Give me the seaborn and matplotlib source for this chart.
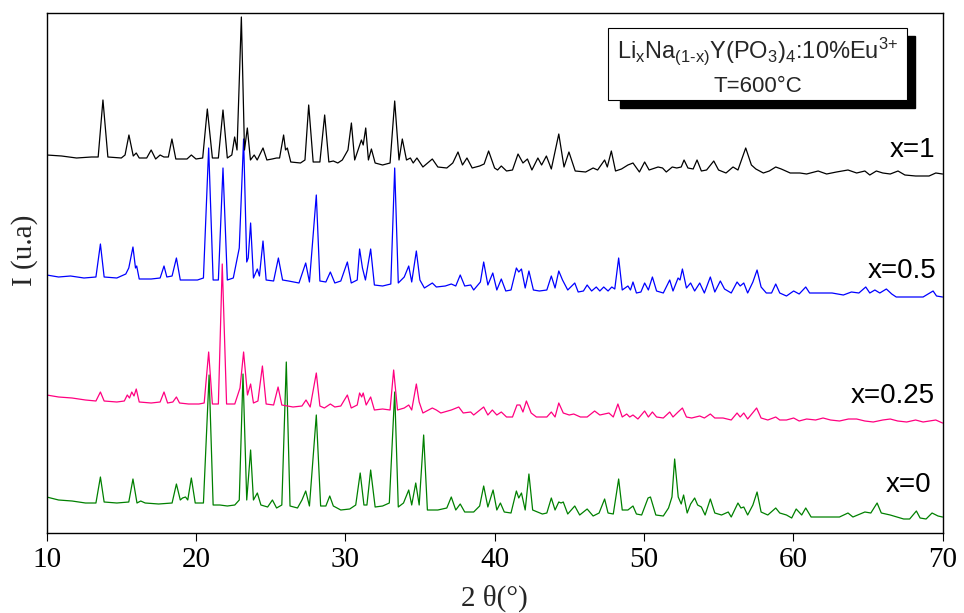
import matplotlib
matplotlib.use("Agg")
import matplotlib.pyplot as plt
import seaborn as sns
import pandas as pd
from matplotlib.patches import Rectangle

# ---- data: (2theta, intensity a.u.) vertices ----
x1_pattern = [
    (10.0, 38), (11.0, 37), (12.0, 35), (13.0, 36), (13.45, 36), (13.77, 93), (14.1, 36), (15.0, 35),
    (15.25, 38), (15.51, 58), (15.8, 37), (16.0, 40), (16.2, 35), (16.7, 35), (17.0, 43), (17.3, 34),
    (17.6, 38), (17.85, 36), (18.15, 36), (18.39, 54), (18.65, 34), (19.4, 34), (19.69, 38), (20.0, 34),
    (20.45, 35), (20.76, 84), (21.1, 35), (21.5, 35), (21.81, 83), (22.1, 35), (22.4, 38), (22.59, 56),
    (22.75, 43), (23.04, 176), (23.25, 43), (23.44, 65), (23.65, 33), (23.9, 38), (24.1, 33), (24.49, 45),
    (24.75, 33), (25.1, 34), (25.4, 35), (25.6, 35), (25.87, 58), (26.0, 43), (26.12, 45), (26.35, 31),
    (27.0, 30), (27.3, 33), (27.55, 88), (27.85, 31), (28.3, 31), (28.62, 78), (28.9, 31), (29.2, 32),
    (29.5, 30), (29.8, 33), (30.18, 43), (30.41, 70), (30.63, 33), (31.08, 53), (31.2, 48), (31.37, 65),
    (31.55, 33), (31.75, 44), (32.0, 30), (32.5, 28), (33.0, 30), (33.31, 92), (33.6, 33), (33.82, 54),
    (34.1, 33), (34.36, 35), (34.55, 30), (34.8, 35), (35.2, 26), (35.83, 34), (36.2, 26), (36.8, 25),
    (37.2, 30), (37.55, 41), (37.85, 28), (38.15, 35), (38.5, 25), (39.0, 27), (39.3, 29), (39.6, 42),
    (40.0, 25), (40.2, 23), (40.45, 27), (40.8, 22), (41.2, 23), (41.57, 39), (41.9, 30), (42.2, 34),
    (42.5, 23), (42.9, 35), (43.15, 28), (43.47, 37), (43.8, 24), (44.3, 59), (44.65, 26), (44.98, 41),
    (45.4, 22), (46.1, 21), (46.6, 25), (46.9, 23), (47.37, 33), (47.55, 26), (47.82, 42), (48.1, 22),
    (48.5, 24), (48.93, 28), (49.27, 30), (49.7, 21), (50.05, 31), (50.35, 23), (50.95, 26), (51.25, 25),
    (51.5, 21), (51.9, 26), (52.2, 25), (52.5, 26), (52.69, 33), (52.95, 25), (53.3, 24), (53.56, 33),
    (53.85, 22), (54.2, 23), (54.68, 32), (55.0, 23), (55.5, 20), (55.97, 26), (56.3, 23), (56.82, 45),
    (57.2, 28), (57.5, 24), (58.0, 20), (58.4, 22), (58.83, 26), (59.2, 24), (59.8, 20), (60.45, 20),
    (60.9, 19), (61.67, 22), (62.24, 19), (62.9, 21), (63.67, 23), (64.25, 20), (64.8, 22), (65.13, 18),
    (65.57, 22), (66.0, 20), (66.5, 19), (67.02, 22), (67.48, 18), (68.2, 17), (69.1, 17), (69.55, 20),
    (70.0, 19),
]

x05_pattern = [
    (10.0, 38), (10.8, 36), (11.6, 37), (12.5, 35), (13.3, 36), (13.6, 69), (13.85, 36), (14.7, 35),
    (15.3, 39), (15.5, 45), (15.78, 66), (15.95, 45), (16.03, 47), (16.2, 34), (17.0, 34), (17.6, 35),
    (17.86, 47), (18.05, 36), (18.4, 37), (18.69, 55), (18.95, 33), (19.5, 33), (20.1, 33), (20.5, 35),
    (20.85, 165), (21.15, 33), (21.5, 33), (21.81, 145), (22.1, 33), (22.5, 35), (22.9, 65), (23.19, 174),
    (23.4, 51), (23.5, 55), (23.66, 90), (23.85, 35), (24.11, 44), (24.25, 37), (24.49, 72), (24.7, 33),
    (25.2, 32), (25.52, 55), (25.8, 33), (26.2, 32), (26.9, 30), (27.35, 50), (27.6, 31), (28.06, 118),
    (28.3, 32), (28.7, 31), (29.0, 41), (29.3, 30), (29.7, 32), (30.14, 51), (30.4, 30), (30.8, 33),
    (30.96, 64), (31.15, 45), (31.35, 33), (31.7, 64), (31.95, 28), (32.5, 27), (33.05, 29), (33.31, 145),
    (33.55, 30), (33.95, 36), (34.25, 47), (34.45, 31), (34.76, 62), (35.0, 33), (35.3, 25), (35.83, 30),
    (36.1, 26), (36.7, 27), (37.1, 29), (37.4, 27), (37.7, 38), (38.0, 27), (38.4, 28), (38.6, 23),
    (39.05, 31), (39.27, 51), (39.55, 28), (39.88, 40), (40.15, 23), (40.45, 34), (40.75, 22), (41.1, 23),
    (41.46, 45), (41.62, 41), (41.8, 44), (42.05, 25), (42.3, 42), (42.6, 23), (43.0, 22), (43.5, 23),
    (43.8, 37), (44.05, 25), (44.3, 42), (44.55, 33), (44.9, 23), (45.37, 30), (45.6, 21), (45.95, 22),
    (46.2, 28), (46.5, 22), (46.81, 26), (47.05, 22), (47.31, 26), (47.6, 22), (47.85, 26), (48.05, 24),
    (48.31, 55), (48.55, 23), (48.93, 27), (49.1, 23), (49.27, 31), (49.5, 20), (49.8, 21), (50.05, 30),
    (50.3, 23), (50.57, 36), (50.85, 22), (51.3, 20), (51.73, 33), (51.95, 22), (52.29, 35), (52.42, 33),
    (52.58, 44), (52.85, 25), (53.13, 30), (53.4, 22), (53.74, 30), (54.05, 20), (54.45, 36), (54.75, 21),
    (55.12, 32), (55.4, 24), (55.85, 20), (56.24, 31), (56.45, 27), (56.69, 30), (56.95, 20), (57.3, 31),
    (57.58, 43), (57.85, 26), (58.2, 20), (58.55, 20), (58.83, 29), (59.1, 20), (59.55, 17), (60.03, 22),
    (60.4, 19), (60.84, 26), (61.1, 20), (61.98, 20), (62.6, 20), (63.36, 18), (63.9, 21), (64.4, 20),
    (64.86, 26), (65.13, 20), (65.47, 23), (65.8, 20), (66.24, 24), (66.6, 19), (66.9, 16), (67.8, 16),
    (68.7, 16), (69.37, 22), (69.6, 17), (70.0, 16),
]

x025_pattern = [
    (10.0, 38), (10.8, 36), (11.7, 35), (12.6, 33), (13.3, 32), (13.6, 41), (13.85, 32), (14.7, 31),
    (15.2, 32), (15.4, 38), (15.55, 35), (15.7, 41), (15.85, 37), (16.0, 44), (16.2, 31), (17.0, 30),
    (17.6, 31), (17.86, 41), (18.1, 30), (18.45, 31), (18.69, 36), (18.9, 30), (19.5, 29), (20.2, 29),
    (20.55, 30), (20.85, 81), (21.1, 29), (21.5, 29), (21.76, 169), (22.05, 29), (22.6, 29), (22.95, 45),
    (23.19, 81), (23.45, 38), (23.66, 49), (23.85, 30), (24.15, 32), (24.45, 67), (24.7, 29), (25.2, 28),
    (25.5, 46), (25.75, 28), (26.5, 26), (27.1, 27), (27.37, 33), (27.65, 26), (28.06, 60), (28.3, 27),
    (28.6, 25), (29.0, 29), (29.3, 26), (29.7, 27), (30.14, 38), (30.4, 25), (30.8, 28), (30.96, 40),
    (31.1, 36), (31.2, 40), (31.4, 28), (31.7, 36), (31.95, 23), (32.5, 24), (33.0, 23), (33.24, 63),
    (33.5, 23), (33.95, 25), (34.25, 28), (34.45, 23), (34.76, 49), (34.95, 31), (35.2, 20), (35.83, 25),
    (36.1, 23), (36.4, 20), (37.1, 23), (37.6, 26), (37.9, 20), (38.4, 21), (38.6, 18), (39.27, 26),
    (39.55, 18), (39.85, 23), (40.15, 18), (40.45, 21), (40.8, 16), (41.2, 16), (41.5, 28), (41.7, 28),
    (41.9, 21), (42.13, 32), (42.45, 20), (42.8, 16), (43.5, 16), (43.8, 21), (44.05, 16), (44.3, 30),
    (44.6, 20), (45.0, 18), (45.3, 19), (45.75, 16), (46.2, 16), (46.7, 22), (47.05, 18), (47.66, 20),
    (47.95, 16), (48.26, 29), (48.55, 16), (48.85, 19), (49.05, 16), (49.27, 18), (49.6, 14), (50.05, 22),
    (50.3, 16), (50.57, 21), (50.85, 16), (51.3, 15), (51.73, 21), (51.95, 16), (52.29, 21), (52.58, 25),
    (52.85, 16), (53.2, 15), (53.74, 17), (54.05, 15), (54.45, 19), (54.75, 15), (55.3, 15), (55.85, 13),
    (56.24, 20), (56.45, 16), (56.69, 20), (56.95, 14), (57.55, 25), (57.85, 15), (58.3, 13), (58.83, 16),
    (59.1, 13), (59.55, 13), (60.03, 15), (60.4, 12), (60.9, 14), (61.5, 13), (62.0, 15), (62.5, 13),
    (63.1, 12), (63.7, 14), (64.25, 14), (64.8, 12), (65.36, 11), (66.0, 13), (66.5, 14), (67.0, 12),
    (67.6, 11), (68.2, 13), (68.7, 11), (69.55, 13), (70.0, 10),
]

x0_pattern = [
    (10.0, 36), (10.8, 33), (11.7, 32), (12.6, 30), (13.3, 30), (13.6, 56), (13.85, 31), (14.7, 30),
    (15.5, 31), (15.78, 54), (16.05, 30), (16.3, 32), (16.6, 30), (17.5, 29), (18.4, 30), (18.69, 49),
    (18.95, 33), (19.1, 35), (19.3, 36), (19.45, 33), (19.69, 55), (19.95, 30), (20.5, 30), (20.88, 158),
    (21.15, 28), (21.6, 28), (22.1, 27), (22.6, 28), (22.9, 33), (23.15, 159), (23.4, 33), (23.66, 83),
    (23.85, 33), (24.11, 40), (24.35, 28), (24.8, 26), (25.12, 33), (25.4, 25), (25.75, 28), (26.05, 171),
    (26.3, 27), (26.8, 25), (27.1, 33), (27.35, 42), (27.6, 27), (28.06, 118), (28.35, 27), (28.7, 27),
    (28.96, 37), (29.2, 27), (29.7, 23), (30.3, 24), (30.7, 28), (31.0, 60), (31.25, 28), (31.45, 28),
    (31.7, 63), (32.0, 26), (32.5, 27), (32.95, 30), (33.31, 141), (33.55, 26), (33.9, 30), (34.25, 43),
    (34.45, 28), (34.72, 50), (34.95, 28), (35.25, 98), (35.5, 23), (36.2, 23), (36.8, 25), (37.1, 36),
    (37.4, 23), (37.7, 29), (38.0, 21), (38.6, 21), (39.0, 27), (39.27, 47), (39.55, 26), (39.9, 43),
    (40.15, 23), (40.39, 30), (40.65, 21), (41.1, 20), (41.46, 42), (41.62, 35), (41.8, 40), (42.05, 23),
    (42.3, 59), (42.55, 23), (43.2, 19), (43.5, 20), (43.8, 35), (44.05, 23), (44.3, 31), (44.45, 30),
    (44.6, 31), (44.9, 19), (45.37, 27), (45.7, 18), (46.2, 24), (46.6, 17), (47.0, 20), (47.37, 34),
    (47.6, 20), (47.95, 19), (48.31, 54), (48.55, 23), (48.93, 23), (49.27, 27), (49.5, 19), (49.85, 18),
    (50.28, 35), (50.44, 36), (50.8, 18), (51.3, 17), (51.65, 25), (51.88, 36), (52.06, 74), (52.3, 36),
    (52.5, 29), (52.66, 38), (52.9, 20), (53.13, 29), (53.4, 35), (53.6, 28), (53.85, 26), (54.1, 18),
    (54.45, 34), (54.75, 20), (55.2, 18), (55.65, 21), (55.85, 16), (56.3, 30), (56.5, 25), (56.69, 26),
    (56.95, 18), (57.3, 28), (57.58, 41), (57.85, 21), (58.3, 18), (58.83, 25), (59.1, 20), (59.55, 18),
    (59.9, 15), (60.2, 24), (60.57, 18), (60.84, 25), (61.2, 16), (62.0, 16), (63.1, 16), (63.67, 20),
    (64.0, 16), (64.8, 21), (65.2, 20), (65.62, 30), (65.9, 20), (66.5, 18), (67.4, 14), (67.8, 14),
    (68.25, 22), (68.5, 15), (68.9, 14), (69.3, 20), (69.7, 17), (70.0, 16),
]

sample_labels = ["x=0", "x=0.25", "x=0.5", "x=1"]
patterns = [x0_pattern, x025_pattern, x05_pattern, x1_pattern]
x_ticks = [10, 20, 30, 40, 50, 60, 70]

# ---- styling (offsets are only for stacking) ----
offsets = {"x=0": 0, "x=0.25": 100, "x=0.5": 220, "x=1": 340}
palette = {"x=0": "#008000", "x=0.25": "#FF0080", "x=0.5": "#0000FF", "x=1": "#000000"}
label_pos = {"x=0": (69.25, 41), "x=0.25": (69.5, 130), "x=0.5": (69.6, 255), "x=1": (69.5, 376)}

frames = []
for name, pts in zip(sample_labels, patterns):
    df = pd.DataFrame(pts, columns=["two_theta", "intensity"])
    df["sample"] = name
    df["stacked"] = df["intensity"] + offsets[name]
    frames.append(df)
data = pd.concat(frames, ignore_index=True)

sns.set_style("ticks")
serif = ["Liberation Serif", "DejaVu Serif"]
sans = ["Liberation Sans", "DejaVu Sans"]
plt.rcParams["font.family"] = sans
plt.rcParams["mathtext.fontset"] = "custom"
plt.rcParams["mathtext.rm"] = "Liberation Sans"
plt.rcParams["mathtext.it"] = "Liberation Sans"

fig = plt.figure(figsize=(9.64, 6.13), dpi=100)
ax = fig.add_axes([0.0484, 0.1305, 0.9293, 0.8483])

sns.lineplot(data=data, x="two_theta", y="stacked", hue="sample", palette=palette,
             estimator=None, sort=False, legend=False, linewidth=0.9, ax=ax)

ax.set_xlim(10, 70)
ax.set_ylim(0, 520)
ax.set_xticks(x_ticks)
ax.set_xticklabels([str(t) for t in x_ticks], fontfamily=serif, fontsize=21)
ax.set_yticks([])
ax.tick_params(axis="x", direction="out", length=5.8, width=0.8, pad=4, colors="black")
for sp in ax.spines.values():
    sp.set_visible(True)
    sp.set_linewidth(1.0)
    sp.set_color("black")

ax.set_xlabel("2 \u03b8(\u00b0)", fontfamily=serif, fontsize=21, labelpad=9)
ax.set_ylabel("I (u.a)", fontfamily=serif, fontsize=21)
ax.yaxis.set_label_coords(-0.010, 0.544)

for name in sample_labels:
    lx, ly = label_pos[name]
    ax.text(lx, ly, name, ha="right", va="baseline", fontsize=20, fontfamily=sans, color="black")

# inset title box with drop shadow
ax.add_patch(Rectangle((0.640, 0.8173), 0.3293, 0.1385, transform=ax.transAxes,
                       facecolor="black", edgecolor="black", zorder=5, clip_on=False))
ax.add_patch(Rectangle((0.6266, 0.8327), 0.3338, 0.1385, transform=ax.transAxes,
                       facecolor="white", edgecolor="black", linewidth=0.8, zorder=6, clip_on=False))
title_line1 = (r"Li$_{\text{x}}$Na$_{\text{(1-x)}}$Y(PO$_{\text{3}}$)$_{\text{4}}$"
               r":10%Eu$^{\text{3+}}$")
ax.text(0.794, 0.913, title_line1, transform=ax.transAxes, ha="center", va="baseline",
        fontsize=17, zorder=7)
ax.text(0.794, 0.848, "T=600\u00b0C", transform=ax.transAxes, ha="center", va="baseline",
        fontsize=16, zorder=7)

fig.savefig("out.png", dpi=100, facecolor="white")
